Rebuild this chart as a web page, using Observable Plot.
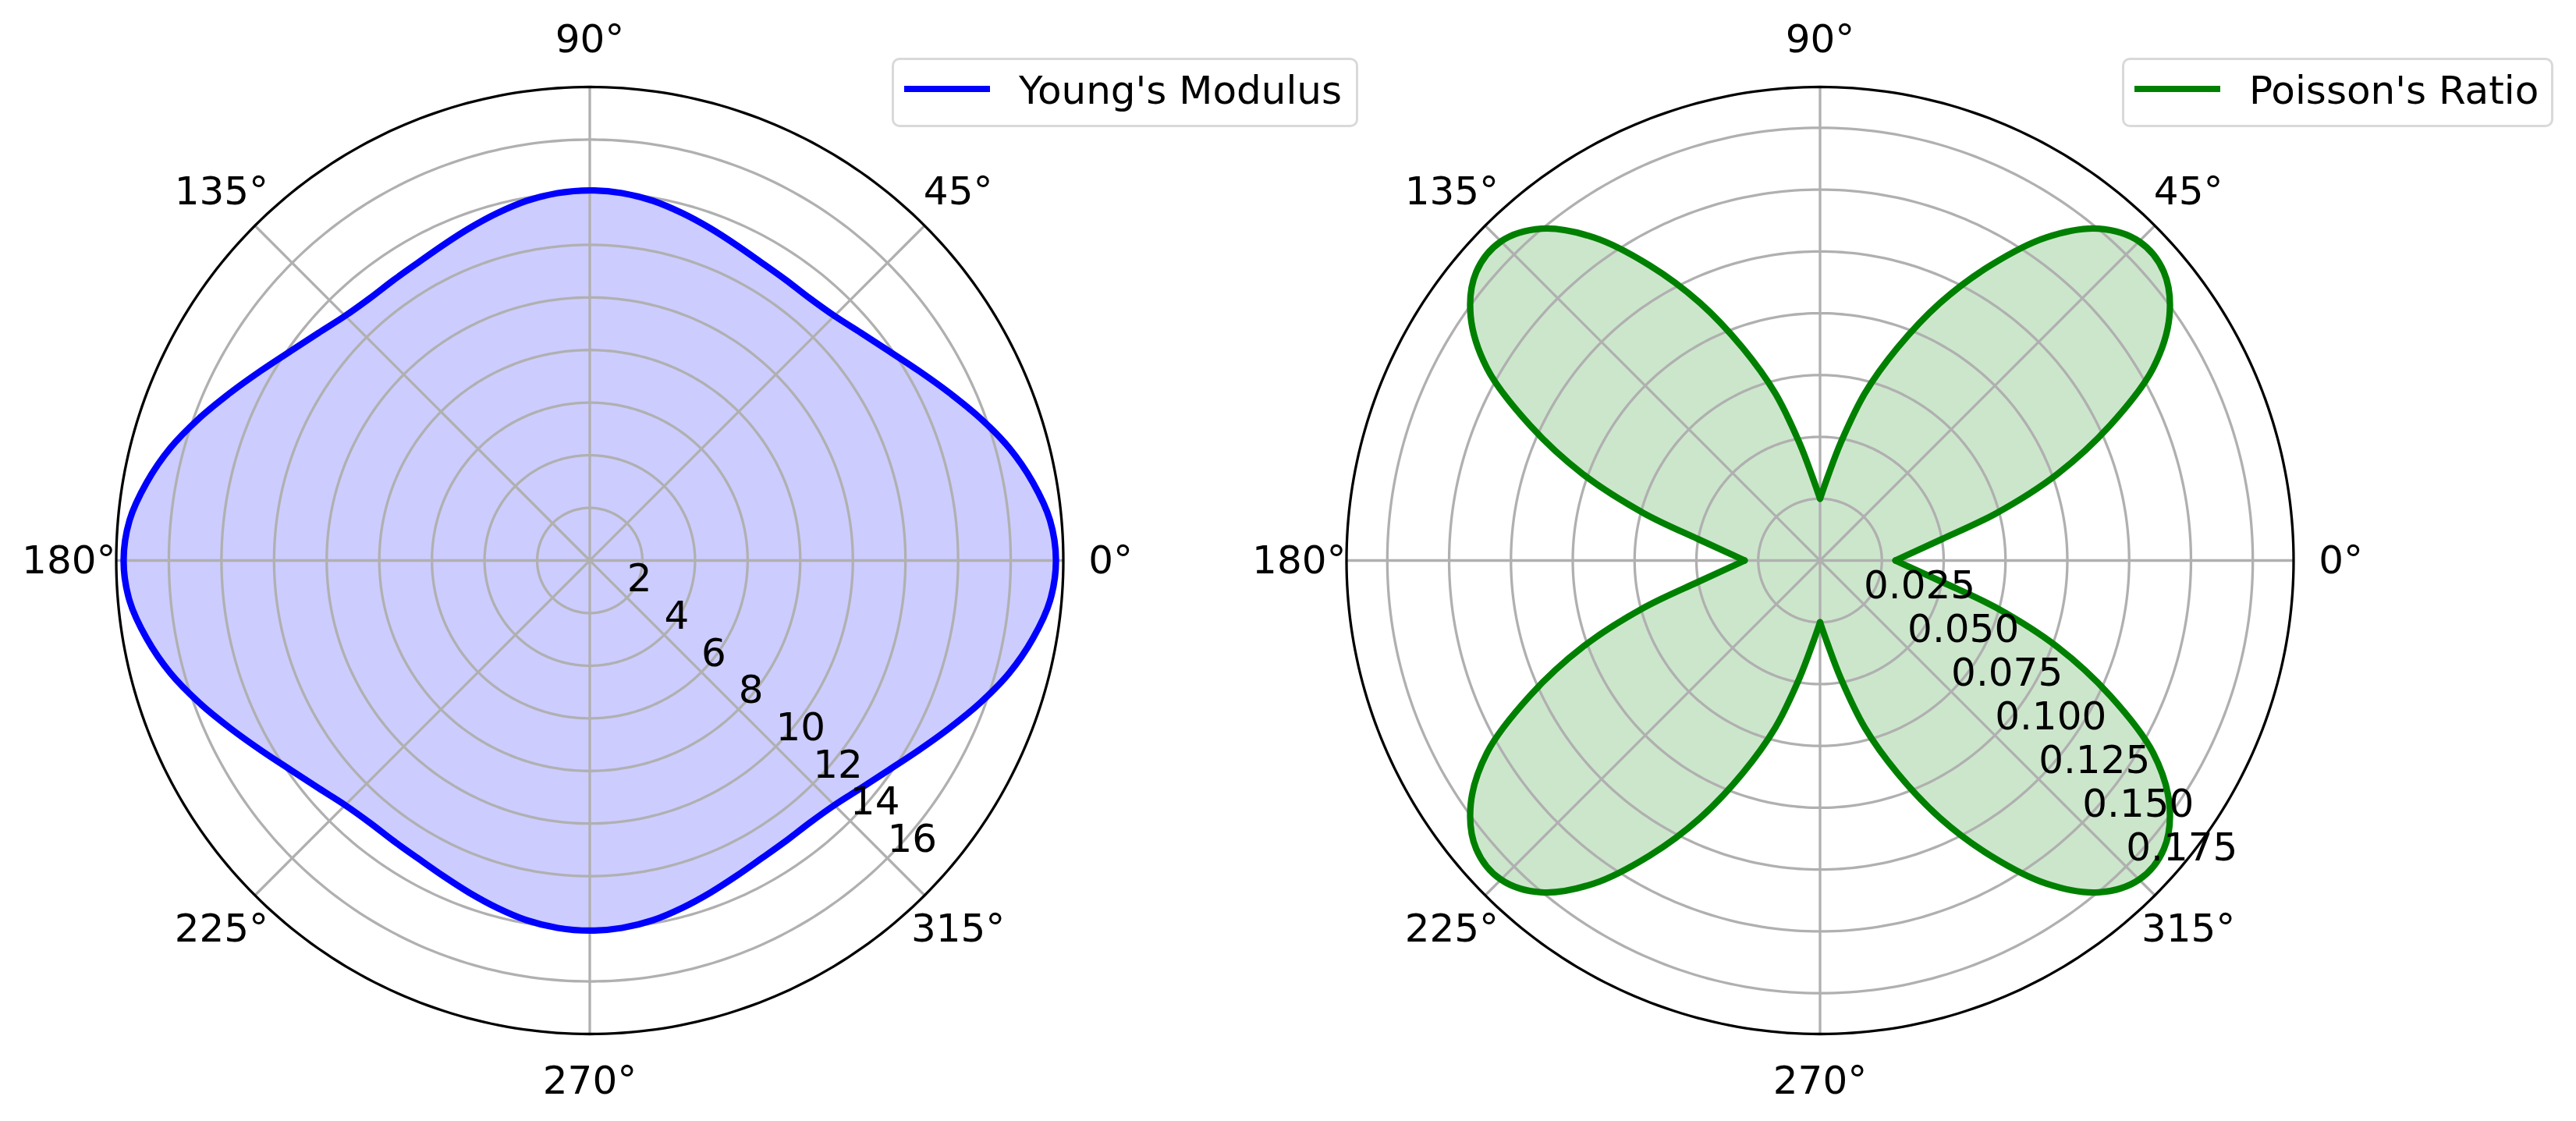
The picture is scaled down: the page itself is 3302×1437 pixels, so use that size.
<!DOCTYPE html>
<html>
<head>
<meta charset="utf-8">
<script src="https://cdn.jsdelivr.net/npm/d3@7"></script>
<script src="https://cdn.jsdelivr.net/npm/@observablehq/plot@0.6"></script>
<style>
  html, body { margin: 0; padding: 0; background: #ffffff; }
  #fig { position: relative; width: 3302px; height: 1437px; overflow: hidden; font-family: "DejaVu Sans", sans-serif; background: #fff; }
  .panel { position: absolute; top: 0; }
  .legend-box { position: absolute; box-sizing: border-box; border: 3px solid #d9d9d9; border-radius: 10px; background: #ffffff; }
  .legend-line { position: absolute; height: 8px; }
  .legend-text { position: absolute; font-size: 50px; line-height: 50px; white-space: nowrap; color: #000; }
</style>
</head>
<body>
<div id="fig"></div>
<script>
// ---------------- data ----------------
const angles = [0,5,10,15,20,25,30,35,40,45,50,55,60,65,70,75,80,85,90,
  95,100,105,110,115,120,125,130,135,140,145,150,155,160,165,170,175,
  180,185,190,195,200,205,210,215,220,225,230,235,240,245,250,255,260,265,270,
  275,280,285,290,295,300,305,310,315,320,325,330,335,340,345,350,355];

const youngsModulus = [
  17.72,17.56,17.10,16.51,15.80,15.08,14.43,13.88,13.46,13.15,13.01,13.01,13.07,13.22,13.43,13.66,13.88,14.02,14.07,
  14.02,13.88,13.66,13.43,13.22,13.07,13.01,13.01,13.15,13.46,13.88,14.43,15.08,15.80,16.51,17.10,17.56,
  17.72,17.56,17.10,16.51,15.80,15.08,14.43,13.88,13.46,13.15,13.01,13.01,13.07,13.22,13.43,13.66,13.88,14.02,14.07,
  14.02,13.88,13.66,13.43,13.22,13.07,13.01,13.01,13.15,13.46,13.88,14.43,15.08,15.80,16.51,17.10,17.56
];

const poissonsRatio = [
  0.0305,0.0378,0.0502,0.0737,0.1020,0.1295,0.1555,0.1725,0.1815,0.1825,0.1752,0.1595,0.1378,0.1150,0.0915,0.0700,0.0485,0.0335,0.0250,
  0.0335,0.0485,0.0700,0.0915,0.1150,0.1378,0.1595,0.1752,0.1825,0.1815,0.1725,0.1555,0.1295,0.1020,0.0737,0.0502,0.0378,
  0.0305,0.0378,0.0502,0.0737,0.1020,0.1295,0.1555,0.1725,0.1815,0.1825,0.1752,0.1595,0.1378,0.1150,0.0915,0.0700,0.0485,0.0335,0.0250,
  0.0335,0.0485,0.0700,0.0915,0.1150,0.1378,0.1595,0.1752,0.1825,0.1815,0.1725,0.1555,0.1295,0.1020,0.0737,0.0502,0.0378
];

const thetaTicks = [0,45,90,135,180,225,270,315];
const youngTicks = [2,4,6,8,10,12,14,16];
const poissonTicks = [0.025,0.050,0.075,0.100,0.125,0.150,0.175];
const youngTickLabels = ["2","4","6","8","10","12","14","16"];
const poissonTickLabels = ["0.025","0.050","0.075","0.100","0.125","0.150","0.175"];
const youngRmax = 18.0;
const poissonRmax = 0.1915;

// ---------------- layout ----------------
const SIZE = 1437;      // svg size of each panel
const R = 607;          // polar radius in px
const CY = 718;         // vertical centre
const rad = Math.PI / 180;
const GRID = "#b0b0b0";

function polarPanel({values, ticks, tickLabels, rmax, color, cusps}) {
  const data = angles.map((a, i) => ({theta: a, r: values[i]}));
  const px = d => d.r * Math.cos(d.theta * rad);
  const py = d => d.r * Math.sin(d.theta * rad);
  const circ = d3.range(0, 361, 1);
  const rings = ticks.flatMap(t => circ.map(a => ({theta: a, r: t})));
  const outer = circ.map(a => ({theta: a, r: rmax}));
  const half = SIZE / 2;

  let strokeMarks;
  if (cusps) {
    // one open curve per lobe, meeting at the cusps
    const lobes = [];
    for (let k = 0; k < 4; k++) {
      for (let j = 0; j <= 18; j++) {
        const i = (18 * k + j) % 72;
        lobes.push({theta: 90 * k + 5 * j, r: values[i], lobe: k});
      }
    }
    strokeMarks = Plot.line(lobes, {x: px, y: py, z: "lobe", curve: "catmull-rom",
      stroke: color, strokeWidth: 8.3, strokeLinejoin: "round", strokeLinecap: "round"});
  } else {
    strokeMarks = Plot.line(data, {x: px, y: py, curve: "catmull-rom-closed",
      stroke: color, strokeWidth: 8.3});
  }

  return Plot.plot({
    width: SIZE,
    height: SIZE,
    margin: 0,
    x: {domain: [-rmax, rmax], range: [half - R, half + R], axis: null},
    y: {domain: [-rmax, rmax], range: [CY + R, CY - R], axis: null},
    style: {fontFamily: "DejaVu Sans", fontSize: "50px", background: "transparent", overflow: "visible", maxWidth: "none"},
    marks: [
      Plot.line(data, {x: px, y: py, curve: "catmull-rom-closed", fill: color, fillOpacity: 0.2, stroke: "none"}),
      Plot.line(rings, {x: px, y: py, z: "r", stroke: GRID, strokeWidth: 3.3}),
      Plot.link(thetaTicks, {x1: () => 0, y1: () => 0,
        x2: a => rmax * Math.cos(a * rad), y2: a => rmax * Math.sin(a * rad),
        stroke: GRID, strokeWidth: 3.3}),
      strokeMarks,
      Plot.line(outer, {x: px, y: py, stroke: "black", strokeWidth: 3.3}),
      Plot.text(thetaTicks, {x: a => 1.1 * rmax * Math.cos(a * rad), y: a => 1.1 * rmax * Math.sin(a * rad),
        text: a => `${a}°`, fontSize: 50, fill: "black", textAnchor: "middle", lineAnchor: "middle"}),
      Plot.text(ticks, {x: t => t * Math.cos(-45 * rad), y: t => t * Math.sin(-45 * rad),
        text: (t, i) => tickLabels[i], fontSize: 50, fill: "black", textAnchor: "start", lineAnchor: "middle", dy: -24})
    ]
  });
}

const fig = document.getElementById("fig");

function addPanel(node, cx) {
  const wrap = document.createElement("div");
  wrap.className = "panel";
  wrap.style.left = (cx - SIZE / 2) + "px";
  wrap.appendChild(node);
  fig.appendChild(wrap);
}

addPanel(polarPanel({values: youngsModulus, ticks: youngTicks, tickLabels: youngTickLabels,
  rmax: youngRmax, color: "blue", cusps: false}), 755.5);
addPanel(polarPanel({values: poissonsRatio, ticks: poissonTicks, tickLabels: poissonTickLabels,
  rmax: poissonRmax, color: "green", cusps: true}), 2332);

function addLegend({left, width, label, color}) {
  const box = document.createElement("div");
  box.className = "legend-box";
  box.style.left = left + "px";
  box.style.top = "74px";
  box.style.width = width + "px";
  box.style.height = "89px";
  fig.appendChild(box);
  const line = document.createElement("div");
  line.className = "legend-line";
  line.style.left = (left + 16) + "px";
  line.style.top = "110px";
  line.style.width = "110px";
  line.style.background = color;
  fig.appendChild(line);
  const txt = document.createElement("div");
  txt.className = "legend-text";
  txt.style.left = (left + 163) + "px";
  txt.style.top = "91px";
  txt.textContent = label;
  fig.appendChild(txt);
}

addLegend({left: 1143, width: 598, label: "Young's Modulus", color: "blue"});
addLegend({left: 2720, width: 553, label: "Poisson's Ratio", color: "green"});
</script>
</body>
</html>
